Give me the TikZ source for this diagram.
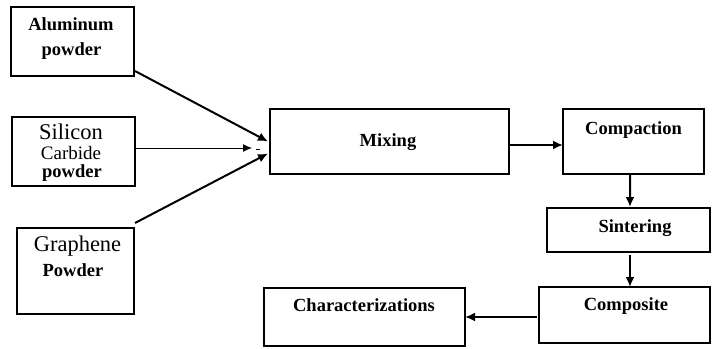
\documentclass[tikz,border=0pt]{standalone}
\usepackage{fontspec}
\setmainfont{Liberation Serif}
\usetikzlibrary{arrows.meta,calc}
\begin{document}
\begin{tikzpicture}[x=1bp,y=-1bp,
  box/.style={draw, line width=1.1bp, inner sep=0pt, outer sep=0pt},
  bt/.style={anchor=base, inner sep=0pt, font=\fontsize{18.5bp}{21bp}\selectfont\bfseries},
  rt/.style={anchor=base, inner sep=0pt, font=\fontsize{22.5bp}{26bp}\selectfont},
  st/.style={anchor=base, inner sep=0pt, font=\fontsize{19bp}{22bp}\selectfont},
  arr/.style={line width=2bp, -{Latex[length=10bp,width=9bp]}},
  thinarr/.style={line width=1bp, -{Latex[length=9bp,width=8bp]}}]
\useasboundingbox (0,0) rectangle (712,348);
% boxes
\node[box, minimum width=123bp, minimum height=69bp] (alu) at (72.5,41.5) {};
\node[box, minimum width=123bp, minimum height=69bp] (sic) at (73.5,151.5) {};
\node[box, minimum width=117bp, minimum height=86bp] (gra) at (75.5,271) {};
\node[box, minimum width=239bp, minimum height=65bp] (mix) at (389.5,141.5) {};
\node[box, minimum width=141bp, minimum height=65bp] (com) at (633.5,141.5) {};
\node[box, minimum width=163bp, minimum height=44bp] (sin) at (628.5,230) {};
\node[box, minimum width=171bp, minimum height=56bp] (cpt) at (624.5,315) {};
\node[box, minimum width=201bp, minimum height=58bp] (cha) at (364.5,317) {};
% texts
\node[bt] (aluA) at (71,30) {Aluminum};
\node[bt] (aluB) at (71.5,55) {powder};
\node[rt] (sicA) at (71,139) {Silicon};
\node[st] (sicB) at (71,159.5) {Carbide};
\node[bt] (sicC) at (72,177.5) {powder};
\node[rt] (graA) at (77.5,251) {Graphene};
\node[bt] (graB) at (73,276) {Powder};
\node[bt] (mixT) at (388,146) {Mixing};
\node[bt] (comT) at (633.5,134) {Compaction};
\node[bt] (sinT) at (635,232.5) {Sintering};
\node[bt] (cptT) at (626,310.5) {Composite};
\node[bt] (chaT) at (364,311.5) {Characterizations};
% connectors
\coordinate (sicEnd) at (252,148);
\coordinate (dashA) at (256,149);
\coordinate (dashB) at (260,149);
\draw[arr] ($(alu.south east)+(1,-5)$) -- ($(mix.west)+(-2,0)$);
\draw[thinarr] ($(sic.east)+(0,-3.5)$) -- (sicEnd);
\draw[line width=1bp] (dashA) -- (dashB);
\draw[arr] ($(gra.north east)+(1,-5)$) -- ($(mix.west)+(-2,12)$);
\draw[arr] ($(mix.east)+(0,3.5)$) -- ($(com.west)+(0,3.5)$);
\draw[arr] ($(com.south)+(-3.5,0)$) -- ($(sin.north)+(1.5,-1)$);
\draw[arr] ($(sin.south)+(1.5,3)$) -- ($(cpt.north)+(5.5,0)$);
\draw[arr] ($(cpt.west)+(-2,2)$) -- ($(cha.east)+(0,0)$);
\end{tikzpicture}
\end{document}
